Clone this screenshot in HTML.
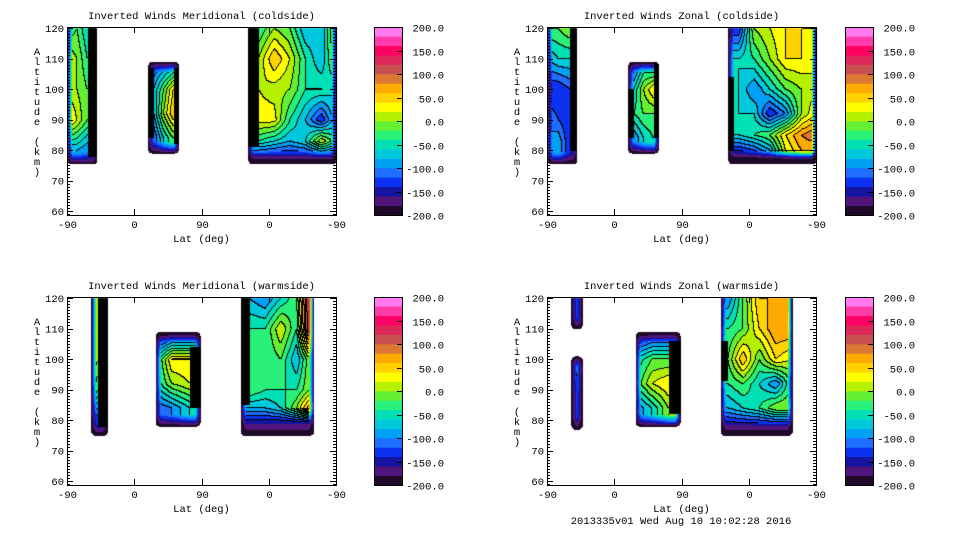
<!DOCTYPE html>
<html><head><meta charset="utf-8"><style>
html,body{margin:0;padding:0;background:#fff;width:960px;height:540px;overflow:hidden}
#c{position:absolute;left:0;top:0}
#s{position:absolute;left:0;top:0}
text{font-family:"Liberation Mono",monospace;font-size:10.5px;fill:#000}
</style></head><body>
<canvas id="c" width="960" height="540"></canvas>
<svg id="s" width="960" height="540"></svg>
<script>
// ===== data =====
const colorLevels=[-200,-180,-160,-140,-120,-100,-80,-60,-40,-20,0,20,40,60,80,100,120,140,160,180,200];
const colorbarTicks=[-200,-150,-100,-50,0,50,100,150,200];
const altTicks=[60,70,80,90,100,110,120];
const latTickLabels=["-90","0","90","0","-90"];
const latTickPos=[0,90,180,270,360];
const panelTitles=["Inverted Winds Meridional (coldside)","Inverted Winds Zonal (coldside)","Inverted Winds Meridional (warmside)","Inverted Winds Zonal (warmside)"];
const bandColors=['#1e0a28','#50147a','#1414a0','#0a32f0','#1e6eff','#00a0f5','#00c8dc','#00e0b4','#28f078','#64f032','#b4f000','#ffff00','#ffd200','#ffaa00','#dc7832','#c85050','#dc285a','#ff0064','#ff3caa','#ff78f0'];

// panel 1: meridional coldside
const p1A_cols=[0,13,27]; const p1A_alts=[120,110,100,90,80];
const p1A_vals=[[-40,-20,-60],[20,0,-40],[10,0,-20],[60,20,-20],[-80,-80,-100]];
const p1B_cols=[116,129,142]; const p1B_alts=[108,100,92,84];
const p1B_vals=[[-120,-100,-80],[-80,-20,40],[-80,0,60],[-120,-60,-20]];
const p1C_cols=[256,277,298,319,340,360]; const p1C_alts=[120,110,100,90,83,77];
const p1C_vals=[[-40,0,-20,-80,-80,20],[0,60,20,-40,-80,0],[20,10,0,-40,-40,-60],[30,30,-40,-80,-140,-60],[-40,-60,-80,-60,20,-40],[-160,-160,-160,-160,-160,-160]];
// panel 2: zonal coldside
const p2A_cols=[0,15,30]; const p2A_alts=[120,110,100,90,82];
const p2A_vals=[[-20,-20,0],[-80,-60,-60],[-140,-140,-120],[-100,-120,-140],[-100,-80,-140]];
const p2B_cols=[116,129,142]; const p2B_alts=[108,100,92,84];
const p2B_vals=[[-120,-60,-80],[-60,0,40],[-40,-20,-20],[-100,-60,-40]];
const p2C_cols=[256,277,298,319,340,360]; const p2C_alts=[120,110,100,92,85,80,77];
const p2C_vals=[[-140,0,20,40,40,40],[-60,-40,0,40,40,20],[-60,-100,-60,-20,0,20],[-60,-60,-140,-100,0,40],[-60,-40,-20,40,80,100],[-140,-120,-80,20,60,60],[-180,-180,-180,-180,-180,-180]];
// panel 3: meridional warmside
const p3A_cols=[32,41]; const p3A_alts=[120,110,100,90,80];
const p3A_vals=[[20,0],[50,0],[30,0],[0,-40],[-120,-140]];
const p3B_cols=[118,140,164]; const p3B_alts=[108,100,92,84];
const p3B_vals=[[-160,-140,-140],[-60,40,40],[-60,0,20],[-120,-100,-60]];
const p3C_cols=[244,265,286,307,325]; const p3C_alts=[120,110,100,90,84,79];
const p3C_vals=[[-80,-100,-60,-20,160],[-40,-40,20,-40,160],[-40,-40,-20,-80,0],[-20,-40,-40,-40,0],[-80,-80,-60,0,80],[-160,-160,-160,-160,-160]];
// panel 4: zonal warmside
const p4A_cols=[32,47]; const p4A_alts=[120,110,100,90,80];
const p4A_vals=[[-140,-120],[-140,-120],[-120,-100],[-140,-120],[-140,-140]];
const p4B_cols=[118,140,162]; const p4B_alts=[108,100,92,84];
const p4B_vals=[[-160,-140,-140],[-60,-20,-20],[-40,20,40],[-100,-60,0]];
const p4C_cols=[242,262,284,306,326]; const p4C_alts=[120,110,100,92,84,78];
const p4C_vals=[[-100,-20,60,60,60],[-40,-20,40,80,80],[-20,60,-20,40,20],[-40,-20,-60,-100,-20],[-80,-60,-40,0,0],[-160,-160,-160,-160,-160]];

const panels=[
 {ox:67,oy:27,cb:374,regions:[
  {u:[0,40],a:[75.5,120],cols:p1A_cols,alts:p1A_alts,vals:p1A_vals,black:[[27,40,78,120]]},
  {u:[108,149],a:[79,109],cols:p1B_cols,alts:p1B_alts,vals:p1B_vals,black:[[108,116,84,107],[142,149,82,107]]},
  {u:[242,360],a:[75.5,120],cols:p1C_cols,alts:p1C_alts,vals:p1C_vals,black:[[242,256,81,120]]}]},
 {ox:547,oy:27,cb:845,regions:[
  {u:[0,40],a:[75.5,120],cols:p2A_cols,alts:p2A_alts,vals:p2A_vals,black:[[30,40,80,120]]},
  {u:[108,149],a:[79,109],cols:p2B_cols,alts:p2B_alts,vals:p2B_vals,black:[[108,116,84,100],[142,149,84,110]]},
  {u:[242,360],a:[75.5,120],cols:p2C_cols,alts:p2C_alts,vals:p2C_vals,black:[[242,250,80,104]]}]},
 {ox:67,oy:297,cb:374,regions:[
  {u:[32,54],a:[75,120],cols:p3A_cols,alts:p3A_alts,vals:p3A_vals,black:[[41,54,78,120]]},
  {u:[118,178],a:[78,109],cols:p3B_cols,alts:p3B_alts,vals:p3B_vals,black:[[164,178,84,104]]},
  {u:[232,330],a:[75,120],cols:p3C_cols,alts:p3C_alts,vals:p3C_vals,black:[[232,244,85,120]]}]},
 {ox:547,oy:297,cb:845,regions:[
  {u:[32,47],a:[110,120],cols:p4A_cols,alts:p4A_alts,vals:p4A_vals,black:[]},
  {u:[32,47],a:[77,101],cols:p4A_cols,alts:p4A_alts,vals:p4A_vals,black:[]},
  {u:[118,178],a:[78,109],cols:p4B_cols,alts:p4B_alts,vals:p4B_vals,black:[[162,178,82,106]]},
  {u:[232,328],a:[75,120],cols:p4C_cols,alts:p4C_alts,vals:p4C_vals,black:[[232,242,93,106]]}]}
];
// ===== axis functions =====
const PW=269, PH=188;
function xOf(p,u){return p.ox+u*PW/360;}
function yOf(p,a){return p.oy+1+(120-a)*3.05;}
function uOf(p,x){return (x-p.ox)*360/PW;}
function aOf(p,y){return 120-(y-p.oy-1)/3.05;}
function cbY(p,v){return p.oy+PH-(v+200)/400*PH;}
function interp(r,u,a){
 const c=r.cols,al=r.alts;
 let i=0; while(i<c.length-2&&u>c[i+1])i++;
 let j=0; while(j<al.length-2&&a<al[j+1])j++;
 let tx=c.length>1?(u-c[i])/(c[i+1]-c[i]):0; tx=Math.max(0,Math.min(1,tx));
 let ty=al.length>1?(a-al[j])/(al[j+1]-al[j]):0; ty=Math.max(0,Math.min(1,ty));
 const row=(k)=>c.length>1?r.vals[k][i]*(1-tx)+r.vals[k][i+1]*tx:r.vals[k][0];
 return row(j)*(1-ty)+row(j+1)*ty;
}
function band(v){let b=Math.floor((v+200)/20);return Math.max(0,Math.min(19,b));}
// ===== draw fields =====
const cv=document.getElementById('c'),ctx=cv.getContext('2d');
const img=ctx.createImageData(960,540);
const B=new Int16Array(960*540).fill(-1);
const E=new Uint8Array(960*540);
panels.forEach(p=>{
 p.regions.forEach(r=>{
  const xL=xOf(p,r.u[0]),xR=xOf(p,r.u[1]),yT=yOf(p,r.a[1]),yB=yOf(p,r.a[0]);
  for(let y=Math.max(p.oy+1,Math.floor(yT));y<=Math.min(p.oy+PH,Math.ceil(yB));y++){
   for(let x=Math.max(p.ox+1,Math.floor(xL));x<=Math.min(p.ox+PW,Math.ceil(xR));x++){
    const u=uOf(p,x),a=aOf(p,y);
    const dl=x-xL,dr=xR-x,db=yB-y,dt=r.a[1]>=119?99:y-yT;
    if(dl<0||dr<0||db<0||dt<0)continue;
    // rounded corners
    const cx=Math.min(dl,dr),cy=Math.min(db,dt);
    if(cx<4&&cy<4&&Math.hypot(4-cx,4-cy)>4)continue;
    let blk=false;
    r.black.forEach(b=>{if(u>=b[0]&&u<=b[1]&&a>=b[2]&&a<=b[3])blk=true;});
    if(blk){B[y*960+x]=-2;continue;}
    let v=interp(r,u,a);
    const f=Math.min(1,Math.min(dl,dr)/5)*Math.min(1,db/12)*Math.min(1,dt/10);
    v=-200+(v+200)*f;
    B[y*960+x]=band(v);
    if(f<1)E[y*960+x]=1;
   }
  }
 });
});
function hex(h){return [parseInt(h.substr(1,2),16),parseInt(h.substr(3,2),16),parseInt(h.substr(5,2),16)];}
const rgb=bandColors.map(hex);
for(let y=0;y<540;y++)for(let x=0;x<960;x++){
 const k=y*960+x,b=B[k];let c=[255,255,255];
 if(b===-2)c=[0,0,0];
 else if(b>=0){
  c=rgb[b];
  if(!E[k]){
   const r=x<959?B[k+1]:-1,d=y<539?B[k+960]:-1;
   if((r>=0&&r!==b&&!E[k+1])||(d>=0&&d!==b&&!E[k+960]))c=[0,0,0];
  }
 }
 img.data[k*4]=c[0];img.data[k*4+1]=c[1];img.data[k*4+2]=c[2];img.data[k*4+3]=255;
}
ctx.putImageData(img,0,0);
// ===== axes overlay =====
const S=document.getElementById('s'),NS='http://www.w3.org/2000/svg';
function el(t,at,parent){const e=document.createElementNS(NS,t);for(const k in at)e.setAttribute(k,at[k]);(parent||S).appendChild(e);return e;}
panels.forEach((p,pi)=>{
 const g=el('g',{});
 
 
 const fr=el('rect',{x:p.ox+0.5,y:p.oy+0.5,width:PW,height:PH,fill:'none',stroke:'#000','stroke-width':1},g);
 
 
 const t=el('text',{x:p.ox+PW/2,y:p.oy-8,'text-anchor':'middle'},g);t.textContent=panelTitles[pi];
 
 
 for(let a=59;a<=120;a++){
  const y=Math.round(yOf(p,a))+0.5,L=a%10===0?6:3;
  el('line',{x1:p.ox,x2:p.ox+L,y1:y,y2:y,stroke:'#000'},g);
  el('line',{x1:p.ox+PW-L,x2:p.ox+PW,y1:y,y2:y,stroke:'#000'},g);
 }
 altTicks.forEach(a=>{const tx=el('text',{x:p.ox-3,y:yOf(p,a)+4,'text-anchor':'end'},g);tx.textContent=a;
  
  });
 latTickPos.forEach((u,i)=>{const x=Math.round(xOf(p,u))+0.5;
  el('line',{x1:x,x2:x,y1:p.oy+PH-6,y2:p.oy+PH,stroke:'#000'},g);
  el('line',{x1:x,x2:x,y1:p.oy,y2:p.oy+6,stroke:'#000'},g);
  const tx=el('text',{x:x,y:p.oy+PH+13,'text-anchor':'middle'},g);tx.textContent=latTickLabels[i];
  
  });
 const xl=el('text',{x:p.ox+PW/2,y:p.oy+PH+27,'text-anchor':'middle'},g);xl.textContent='Lat (deg)';
 
 
 const yl=el('text',{x:p.ox-30,y:p.oy+28,'text-anchor':'middle'},g);
 
 
 'Altitude (km)'.split('').forEach((ch,i)=>{const ts=el('tspan',{x:p.ox-30,y:p.oy+28+i*10},yl);ts.textContent=ch===' '?'\u00a0':ch;});
 // colorbar
 const cbg=el('g',{},g);
 
 
 for(let i=0;i<colorLevels.length-1;i++){
  const y1=cbY(p,colorLevels[i+1]),y2=cbY(p,colorLevels[i]);
  el('rect',{x:p.cb,y:y1,width:28,height:y2-y1+0.3,fill:bandColors[i]},cbg);
 }
 el('rect',{x:p.cb+0.5,y:p.oy+0.5,width:28,height:PH,fill:'none',stroke:'#000'},cbg);
 colorbarTicks.forEach(v=>{const y=Math.round(cbY(p,v))+0.5;
  if(v>-200&&v<200)el('line',{x1:p.cb+23,x2:p.cb+28,y1:y,y2:y,stroke:'#000'},cbg);
  const tx=el('text',{x:p.cb+70,y:y+4,'text-anchor':'end'},cbg);tx.textContent=v.toFixed(1);
  
  });
});
const ft=el('text',{x:681,y:524,'text-anchor':'middle'});ft.textContent='2013335v01 Wed Aug 10 10:02:28 2016';


</script>
</body></html>
